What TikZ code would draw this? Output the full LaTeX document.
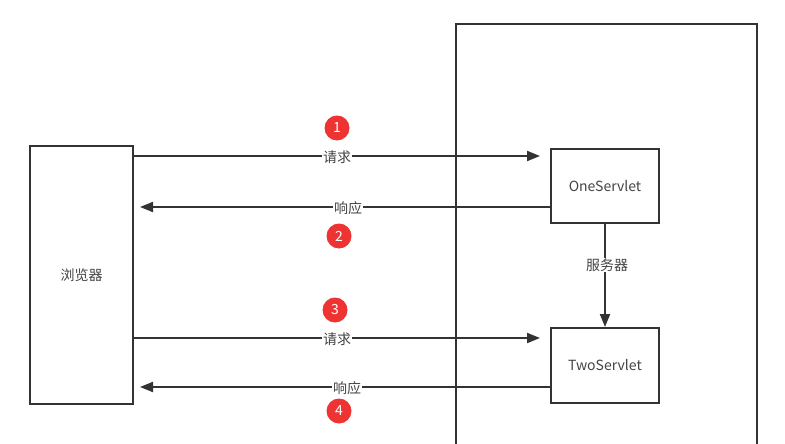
\documentclass[tikz,border=0pt]{standalone}
\usepackage{fontspec}
\setmainfont{Noto Sans CJK SC}
\usetikzlibrary{arrows.meta}
\definecolor{ln}{HTML}{333333}
\definecolor{tx}{HTML}{444444}
\definecolor{rd}{HTML}{EE3333}
\tikzset{
  box/.style={draw=ln, line width=2pt, inner sep=0pt, text=tx, font=\fontsize{14}{16}\selectfont},
  arr/.style={draw=ln, line width=2pt, -{Triangle[length=13pt,width=10pt]}},
  lbl/.style={fill=white, inner sep=1pt, text=tx, font=\fontsize{14}{16}\selectfont},
  num/.style={circle, fill=rd, text=white, inner sep=0pt, minimum size=25pt, font=\fontsize{14}{16}\selectfont},
}
\begin{document}
\begin{tikzpicture}[x=1pt,y=-1pt]
\useasboundingbox (0,0) rectangle (785,444);
\clip (0,0) rectangle (785,444);
\fill[white] (0,0) rectangle (785,444);
\node[box, minimum width=301pt, minimum height=436pt] (server) at (606.5,242) {};
\node[box, minimum width=103pt, minimum height=258pt] (browser) at (81.5,275) {浏览器};
\node[box, fill=white, minimum width=108pt, minimum height=74pt] (one) at (605,186) {OneServlet};
\node[box, fill=white, minimum width=108pt, minimum height=75pt] (two) at (605,365.5) {TwoServlet};
\coordinate (y1) at (0,156);
\coordinate (y2) at (0,207);
\coordinate (y3) at (0,338);
\coordinate (y4) at (0,387);
\draw[arr, shorten >=10pt] (y1 -| browser.east) -- (y1 -| one.west);
\draw[arr, shorten >=6pt] (y2 -| one.west) -- (y2 -| browser.east);
\draw[arr, shorten >=10pt] (y3 -| browser.east) -- (y3 -| two.west);
\draw[arr, shorten >=6pt] (y4 -| two.west) -- (y4 -| browser.east);
\draw[arr] (one.south) -- (two.north);
\node[lbl] (l1) at (337,157) {请求};
\node[lbl] (l2) at (348,208) {响应};
\node[lbl] (l3) at (337,339) {请求};
\node[lbl] (l4) at (347,388) {响应};
\node[lbl] (l5) at (607,265) {服务器};
\node[num] (n1) at (337,128) {1};
\node[num] (n2) at (339,236) {2};
\node[num] (n3) at (335,310) {3};
\node[num] (n4) at (339,411) {4};
\end{tikzpicture}
\end{document}
